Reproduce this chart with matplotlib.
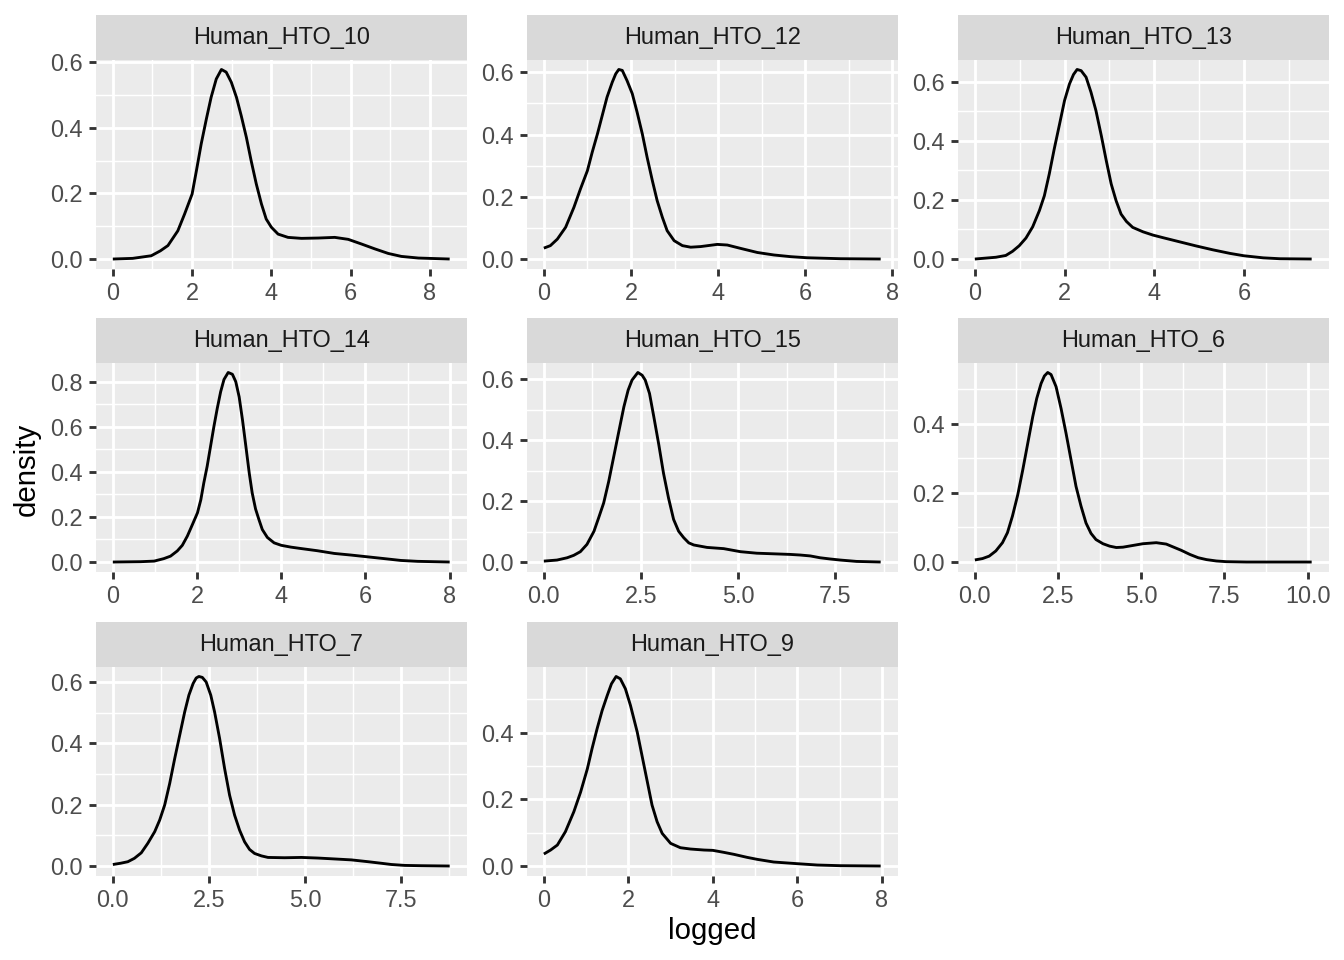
import matplotlib
matplotlib.use('Agg')
import matplotlib.pyplot as plt
from matplotlib.ticker import FixedLocator, FixedFormatter

# facet names, in facet_wrap order
panels = ['Human_HTO_10', 'Human_HTO_12', 'Human_HTO_13', 'Human_HTO_14',
          'Human_HTO_15', 'Human_HTO_6', 'Human_HTO_7', 'Human_HTO_9']

# density curves (x = logged, y = density)
hto10_x = [0, 0.5, 0.97, 1.2, 1.39, 1.64, 1.81, 2.0, 2.11, 2.23, 2.36, 2.48, 2.61, 2.74, 2.86,
           2.99, 3.12, 3.24, 3.37, 3.49, 3.62, 3.75, 3.87, 4.0, 4.17, 4.42, 4.76, 5.18, 5.6,
           5.94, 6.27, 6.61, 6.95, 7.28, 7.71, 8.5]
hto10_y = [0.0, 0.002, 0.010, 0.025, 0.041, 0.086, 0.137, 0.198, 0.27, 0.351, 0.427, 0.493,
           0.549, 0.578, 0.570, 0.539, 0.493, 0.437, 0.371, 0.30, 0.229, 0.168, 0.122, 0.097,
           0.076, 0.066, 0.063, 0.064, 0.066, 0.060, 0.046, 0.031, 0.017, 0.008, 0.003, 0.0]

hto12_x = [0, 0.15, 0.31, 0.50, 0.69, 0.84, 1.0, 1.11, 1.23, 1.34, 1.45, 1.57, 1.65, 1.72,
           1.80, 1.91, 2.03, 2.14, 2.26, 2.37, 2.49, 2.60, 2.72, 2.83, 2.99, 3.18, 3.37, 3.60,
           3.98, 4.21, 4.52, 4.90, 5.28, 5.67, 6.05, 6.81, 7.73]
hto12_y = [0.035, 0.043, 0.064, 0.102, 0.166, 0.225, 0.284, 0.343, 0.402, 0.461, 0.52, 0.568,
           0.595, 0.609, 0.606, 0.573, 0.531, 0.472, 0.402, 0.327, 0.252, 0.188, 0.134, 0.091,
           0.059, 0.043, 0.038, 0.040, 0.047, 0.045, 0.034, 0.021, 0.013, 0.0075, 0.004,
           0.001, 0.0]

hto13_x = [0, 0.47, 0.69, 0.84, 0.99, 1.14, 1.29, 1.44, 1.55, 1.66, 1.77, 1.89, 2.0, 2.11,
           2.20, 2.28, 2.37, 2.48, 2.59, 2.70, 2.82, 2.93, 3.04, 3.15, 3.26, 3.38, 3.52, 3.75,
           3.97, 4.20, 4.57, 4.94, 5.31, 5.69, 6.0, 6.43, 6.80, 7.51]
hto13_y = [0.0, 0.006, 0.012, 0.026, 0.045, 0.071, 0.109, 0.164, 0.214, 0.288, 0.372, 0.457,
           0.536, 0.592, 0.624, 0.641, 0.637, 0.615, 0.564, 0.502, 0.417, 0.333, 0.254, 0.197,
           0.152, 0.127, 0.107, 0.092, 0.081, 0.072, 0.058, 0.044, 0.031, 0.019, 0.011, 0.004,
           0.001, 0.0]

hto14_x = [0, 0.66, 0.98, 1.21, 1.37, 1.53, 1.65, 1.77, 1.89, 2.01, 2.09, 2.16, 2.24, 2.32,
           2.40, 2.48, 2.56, 2.64, 2.74, 2.84, 2.92, 3.00, 3.08, 3.16, 3.24, 3.31, 3.39, 3.47,
           3.55, 3.67, 3.83, 4.0, 4.23, 4.46, 4.86, 5.26, 5.65, 6.0, 6.45, 6.84, 7.24, 8.0]
hto14_y = [0.0, 0.0015, 0.004, 0.015, 0.026, 0.049, 0.074, 0.115, 0.166, 0.218, 0.276, 0.35,
           0.424, 0.512, 0.60, 0.681, 0.754, 0.809, 0.84, 0.832, 0.799, 0.732, 0.629, 0.512,
           0.394, 0.306, 0.235, 0.188, 0.144, 0.109, 0.085, 0.074, 0.066, 0.060, 0.050, 0.038,
           0.031, 0.024, 0.015, 0.007, 0.003, 0.0]

hto15_x = [0, 0.34, 0.60, 0.77, 0.94, 1.11, 1.29, 1.41, 1.54, 1.67, 1.80, 1.93, 2.06, 2.17,
           2.27, 2.42, 2.53, 2.61, 2.72, 2.83, 2.96, 3.08, 3.21, 3.34, 3.47, 3.60, 3.73, 3.86,
           4.20, 4.63, 5.06, 5.48, 5.91, 6.34, 6.60, 6.86, 7.11, 7.37, 7.63, 8.05, 8.67]
hto15_y = [0.003, 0.0065, 0.014, 0.022, 0.034, 0.058, 0.101, 0.145, 0.194, 0.265, 0.347, 0.429,
           0.51, 0.565, 0.598, 0.623, 0.614, 0.598, 0.554, 0.478, 0.385, 0.292, 0.21, 0.14,
           0.101, 0.080, 0.063, 0.056, 0.048, 0.044, 0.034, 0.029, 0.027, 0.025, 0.023, 0.020,
           0.014, 0.010, 0.0065, 0.002, 0.0]

hto6_x = [0, 0.23, 0.43, 0.63, 0.83, 0.98, 1.13, 1.29, 1.44, 1.59, 1.74, 1.86, 1.99, 2.09,
          2.19, 2.29, 2.44, 2.59, 2.74, 2.89, 3.04, 3.19, 3.34, 3.49, 3.64, 3.85, 4.05, 4.25,
          4.45, 4.75, 5.05, 5.45, 5.75, 5.95, 6.20, 6.46, 6.71, 6.96, 7.26, 7.56, 8.16, 10.12]
hto6_y = [0.006, 0.010, 0.017, 0.032, 0.056, 0.085, 0.133, 0.195, 0.267, 0.344, 0.421, 0.474,
          0.517, 0.539, 0.549, 0.543, 0.508, 0.445, 0.373, 0.296, 0.219, 0.162, 0.113, 0.083,
          0.065, 0.053, 0.046, 0.042, 0.043, 0.048, 0.053, 0.056, 0.052, 0.044, 0.034, 0.022,
          0.0125, 0.007, 0.003, 0.001, 0.0, 0.0]

hto7_x = [0, 0.2, 0.39, 0.56, 0.74, 0.91, 1.09, 1.22, 1.35, 1.48, 1.61, 1.74, 1.87, 1.98,
          2.09, 2.17, 2.24, 2.33, 2.43, 2.55, 2.65, 2.78, 2.91, 3.04, 3.17, 3.30, 3.43, 3.56,
          3.69, 3.87, 4.04, 4.47, 4.91, 5.34, 5.78, 6.21, 6.65, 6.99, 7.25, 7.60, 8.04, 8.77]
hto7_y = [0.005, 0.009, 0.014, 0.025, 0.043, 0.074, 0.112, 0.15, 0.199, 0.269, 0.35, 0.426,
          0.502, 0.557, 0.595, 0.613, 0.618, 0.615, 0.60, 0.557, 0.502, 0.416, 0.318, 0.231,
          0.166, 0.117, 0.079, 0.054, 0.041, 0.033, 0.028, 0.027, 0.028, 0.026, 0.023, 0.020,
          0.014, 0.009, 0.005, 0.002, 0.001, 0.0]

hto9_x = [0, 0.16, 0.32, 0.51, 0.71, 0.87, 1.03, 1.14, 1.26, 1.38, 1.50, 1.60, 1.71, 1.81,
          1.93, 2.05, 2.21, 2.33, 2.45, 2.56, 2.68, 2.80, 3.0, 3.23, 3.47, 3.79, 4.0, 4.26,
          4.50, 4.81, 5.05, 5.44, 6.0, 6.47, 7.02, 7.97]
hto9_y = [0.036, 0.048, 0.063, 0.103, 0.163, 0.222, 0.292, 0.352, 0.412, 0.467, 0.512, 0.547,
          0.569, 0.562, 0.532, 0.482, 0.402, 0.327, 0.252, 0.183, 0.133, 0.098, 0.068, 0.055,
          0.051, 0.048, 0.047, 0.041, 0.035, 0.026, 0.020, 0.012, 0.007, 0.003, 0.001, 0.0]

curves_x = [hto10_x, hto12_x, hto13_x, hto14_x, hto15_x, hto6_x, hto7_x, hto9_x]
curves_y = [hto10_y, hto12_y, hto13_y, hto14_y, hto15_y, hto6_y, hto7_y, hto9_y]

# tick labels of each facet (free scales)
x_ticks = [[0, 2, 4, 6, 8], [0, 2, 4, 6, 8], [0, 2, 4, 6], [0, 2, 4, 6, 8],
           [0, 2.5, 5, 7.5], [0, 2.5, 5, 7.5, 10], [0, 2.5, 5, 7.5], [0, 2, 4, 6, 8]]
x_labels = [['0', '2', '4', '6', '8'], ['0', '2', '4', '6', '8'], ['0', '2', '4', '6'],
            ['0', '2', '4', '6', '8'], ['0.0', '2.5', '5.0', '7.5'],
            ['0.0', '2.5', '5.0', '7.5', '10.0'], ['0.0', '2.5', '5.0', '7.5'],
            ['0', '2', '4', '6', '8']]
y_ticks = [[0, 0.2, 0.4, 0.6], [0, 0.2, 0.4, 0.6], [0, 0.2, 0.4, 0.6], [0, 0.2, 0.4, 0.6, 0.8],
           [0, 0.2, 0.4, 0.6], [0, 0.2, 0.4], [0, 0.2, 0.4, 0.6], [0, 0.2, 0.4]]

plt.rcParams['font.family'] = ['Liberation Sans', 'DejaVu Sans']

W, H = 1344, 960
fig = plt.figure(figsize=(7, 5), dpi=192)

col_left = [96, 527, 958]
row_top = [60, 363, 667]
pw, ph, sh = 370.5, 208.5, 45
lw = 1.07


def minors(ticks):
    step = ticks[1] - ticks[0]
    return [ticks[0] - step / 2] + [t + step / 2 for t in ticks]


for i, name in enumerate(panels):
    r, c = divmod(i, 3)
    left, top = col_left[c], row_top[r]
    ax = fig.add_axes([left / W, 1 - (top + ph) / H, pw / W, ph / H])
    ax.set_facecolor('#EBEBEB')
    ax.plot(curves_x[i], curves_y[i], color='black', lw=lw,
            solid_joinstyle='round', solid_capstyle='butt', zorder=3)

    xs, ys = curves_x[i], curves_y[i]
    xspan = max(xs) - min(xs)
    yspan = max(ys) - min(ys)
    ax.set_xlim(min(xs) - 0.05 * xspan, max(xs) + 0.05 * xspan)
    ax.set_ylim(min(ys) - 0.05 * yspan, max(ys) + 0.05 * yspan)

    ax.xaxis.set_major_locator(FixedLocator(x_ticks[i]))
    ax.xaxis.set_major_formatter(FixedFormatter(x_labels[i]))
    ax.xaxis.set_minor_locator(FixedLocator(minors(x_ticks[i])))
    ax.yaxis.set_major_locator(FixedLocator(y_ticks[i]))
    ax.yaxis.set_major_formatter(FixedFormatter(['%.1f' % v for v in y_ticks[i]]))
    ax.yaxis.set_minor_locator(FixedLocator(minors(y_ticks[i])))

    ax.grid(which='major', color='white', lw=lw)
    ax.grid(which='minor', color='white', lw=lw / 2)
    ax.set_axisbelow(True)
    for s in ax.spines.values():
        s.set_visible(False)
    ax.tick_params(which='major', direction='out', length=2.75, width=lw,
                   color='#333333', labelcolor='#4D4D4D', labelsize=8.8, pad=2.2)
    ax.tick_params(which='minor', length=0)

    # facet strip
    sax = fig.add_axes([left / W, 1 - top / H, pw / W, sh / H])
    sax.set_facecolor('#D9D9D9')
    sax.set_xticks([])
    sax.set_yticks([])
    for s in sax.spines.values():
        s.set_visible(False)
    sax.text(0.5, 0.5, name, ha='center', va='center', fontsize=8.8, color='#1A1A1A')

fig.text(27 / W, 1 - 469 / H, 'density', rotation=90, ha='center', va='center', fontsize=11)
fig.text(712 / W, 1 - 931 / H, 'logged', ha='center', va='center', fontsize=11)

fig.savefig('out.png', dpi=192, facecolor='white')
